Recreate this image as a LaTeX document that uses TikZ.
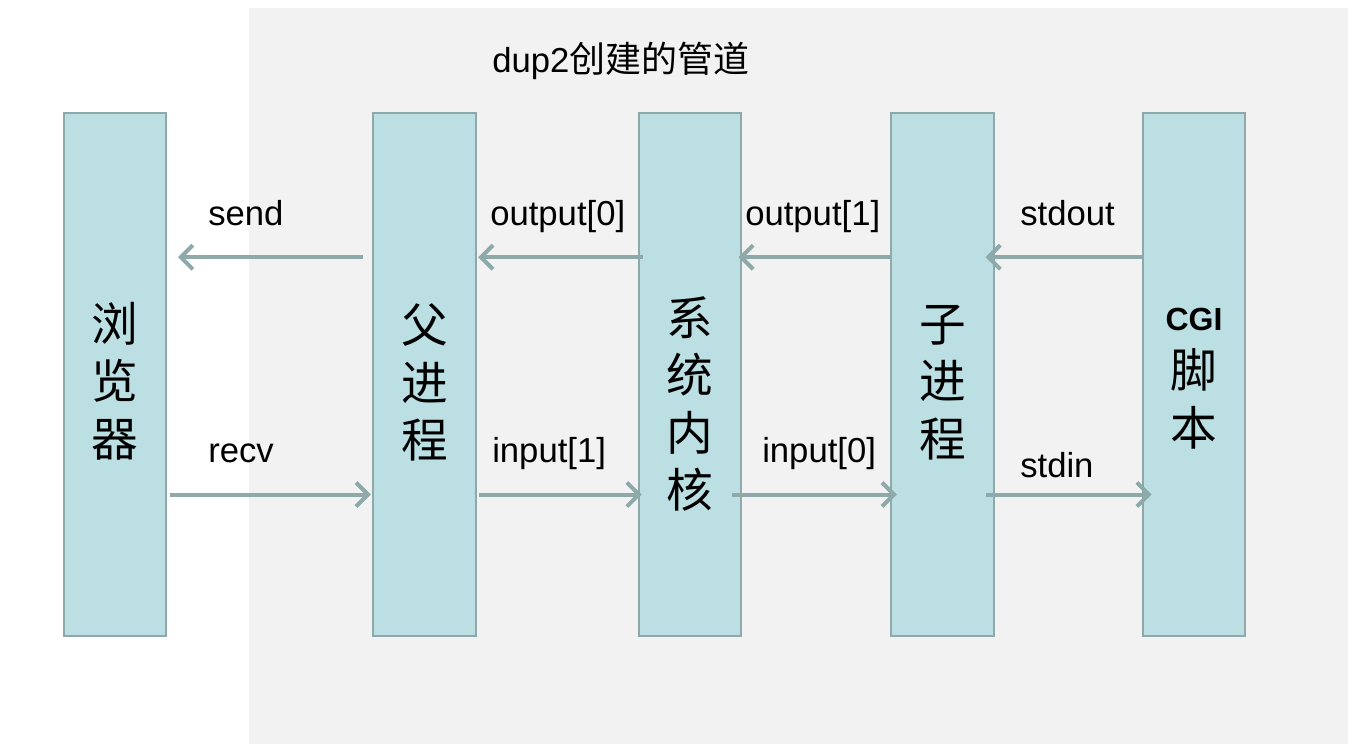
\documentclass[tikz,border=0pt]{standalone}
\usepackage{fontspec}
\setmainfont{Liberation Sans}
\newfontfamily\cjk{Noto Sans CJK SC}
\usepackage{tikz}
\usetikzlibrary{arrows.meta,positioning}
\usepackage{xcolor}
\definecolor{panelgray}{HTML}{F2F2F2}
\definecolor{boxfill}{HTML}{BBDFE2}
\definecolor{boxline}{HTML}{8FA8AA}
\definecolor{flowline}{HTML}{8DA9AA}
\tikzset{
proc_box/.style = {rectangle, draw=boxline, fill=boxfill, line width=1.5pt,
minimum width=77pt, minimum height=392pt, inner sep=0pt},% colonne processus
proc_txt/.style = {align=center, inner sep=0pt, font=\cjk\fontsize{35}{43}\selectfont},% texte vertical
pipe_lbl/.style = {anchor=base west, inner sep=0pt, font=\fontsize{26}{30}\selectfont},% nom du descripteur
flow/.style = {draw=flowline, line width=3pt, -{Straight Barb[length=9pt,width=18pt]}}% flux de donnees
}

\begin{document}
\begin{tikzpicture}[x=0.75pt,y=-0.75pt]
	\useasboundingbox (0,0) rectangle (1369,754);
	\fill[panelgray] (249,8) rectangle (1348,744);
	\node [anchor=base west, inner sep=0pt, font=\fontsize{26}{30}\selectfont] (title) at (492,72)
	  {dup2{\cjk\fontsize{27}{30}\selectfont 创建的管道}};
	% les colonnes
	\node [proc_box] (browser) at (115,374.5) {};
	\node [proc_box] (parent) at (424.5,374.5) {};
	\node [proc_box] (kernel) at (690,374.5) {};
	\node [proc_box] (child) at (942.5,374.5) {};
	\node [proc_box] (cgi) at (1194,374.5) {};
	\node [proc_txt] (browser_t) at ([yshift=-5pt]browser.center) {浏\\览\\器};
	\node [proc_txt] (parent_t) at ([yshift=-6pt]parent.center) {父\\进\\程};
	\node [proc_txt] (kernel_t) at ([yshift=-22pt]kernel.center) {系\\统\\内\\核};
	\node [proc_txt] (child_t) at ([yshift=-6pt]child.center) {子\\进\\程};
	\node [proc_txt] (cgi_t) at ([yshift=-3pt]cgi.center)
	  {{\rmfamily\bfseries\fontsize{24}{28}\selectfont CGI}\\脚\\本};
	% fleches du haut
	\draw [flow] ([xshift=-7pt,yshift=88pt]parent.west) -- ([xshift=8pt,yshift=88pt]browser.east);
	\draw [flow] ([xshift=4pt,yshift=88pt]kernel.west) -- ([xshift=1pt,yshift=88pt]parent.east);
	\draw [flow] ([xshift=1.5pt,yshift=88pt]child.west) -- ([xshift=-3pt,yshift=88pt]kernel.east);
	\draw [flow] ([xshift=1pt,yshift=88pt]cgi.west) -- ([xshift=-7pt,yshift=88pt]child.east);
	% fleches du bas
	\draw [flow] ([xshift=2pt,yshift=-90pt]browser.east) -- ([xshift=-1pt,yshift=-90pt]parent.west);
	\draw [flow] ([xshift=1.5pt,yshift=-90pt]parent.east) -- ([xshift=3pt,yshift=-90pt]kernel.west);
	\draw [flow] ([xshift=-7.5pt,yshift=-90pt]kernel.east) -- ([xshift=5pt,yshift=-90pt]child.west);
	\draw [flow] ([xshift=-7pt,yshift=-90pt]child.east) -- ([xshift=7.5pt,yshift=-90pt]cgi.west);
	% etiquettes
	\node [pipe_lbl] (send) at (208,225) {send};
	\node [pipe_lbl] (out0) at (490,225) {output[0]};
	\node [pipe_lbl] (out1) at (745,225) {output[1]};
	\node [pipe_lbl] (stdout) at (1020,225) {stdout};
	\node [pipe_lbl] (recv) at (208,462) {recv};
	\node [pipe_lbl] (in1) at (492,462) {input[1]};
	\node [pipe_lbl] (in0) at (762,462) {input[0]};
	\node [pipe_lbl] (stdin) at (1020,477) {stdin};
\end{tikzpicture}
\end{document}
